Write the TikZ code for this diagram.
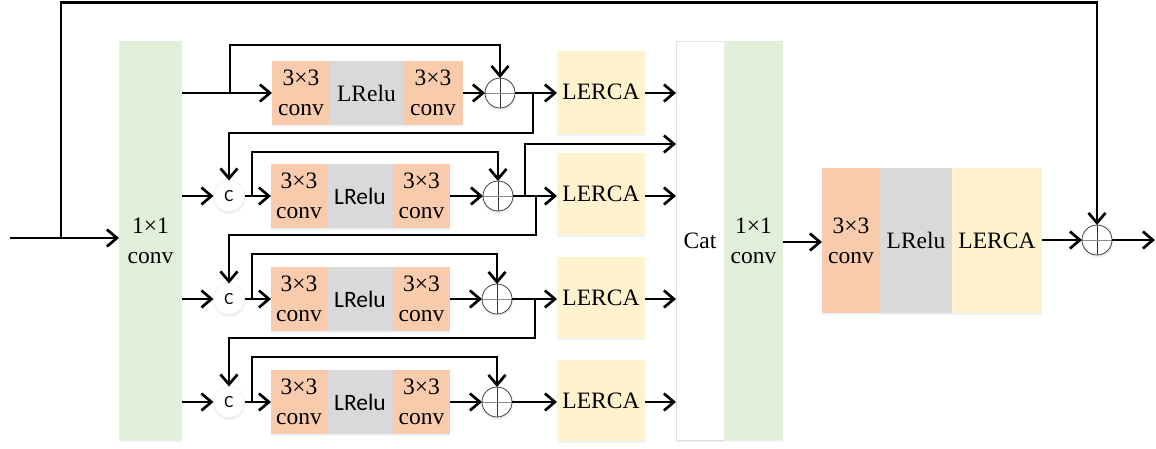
\documentclass[tikz,border=0pt]{standalone}
\usepackage{fontspec}
\setmainfont{Liberation Serif}
\newfontfamily\sansf{Carlito}
\usetikzlibrary{arrows.meta,shadows}
\definecolor{convc}{HTML}{F8CBAD}
\definecolor{reluc}{HTML}{D9D9D9}
\definecolor{ercac}{HTML}{FFF2CC}
\definecolor{onec}{HTML}{E2EFDA}
\definecolor{shadc}{HTML}{B8C8E2}
\begin{document}
\begin{tikzpicture}[x=1pt,y=-1pt,
  arr/.style={line width=2.7pt, -{Straight Barb[length=10pt,width=17pt]}},
  blk/.style={rectangle, inner sep=0pt, outer sep=0pt, align=center,
    font=\fontsize{23.5}{30}\selectfont,
    drop shadow={shadow xshift=0pt, shadow yshift=-2pt, opacity=0.25, fill=shadc}},
  orangebox/.style={blk, fill=convc},
  graybox/.style={blk, fill=reluc},
  yellowbox/.style={blk, fill=ercac},
  greenbox/.style={blk, fill=onec},
  catbox/.style={blk, fill=white, draw=black!12, line width=0.6pt},
  plus/.style={circle, minimum size=30pt, inner sep=0pt, outer sep=0pt, fill=white,
    draw=black!75, line width=0.8pt,
    path picture={\draw[black!80, line width=0.7pt]
      (path picture bounding box.north) -- (path picture bounding box.south);
      \draw[black!45, line width=0.7pt]
      (path picture bounding box.west) -- (path picture bounding box.east);},
    circular drop shadow={shadow xshift=0pt, shadow yshift=-1.5pt, opacity=0.3, fill=shadc}},
  ccirc/.style={circle, minimum size=31pt, inner sep=0pt, outer sep=0pt, fill=white,
    draw=black!8, line width=0.5pt, font=\sansf\fontsize{17}{17}\selectfont,
    circular drop shadow={shadow xshift=0pt, shadow yshift=-1.5pt, opacity=0.3, fill=shadc}},
]
\useasboundingbox (0,0) rectangle (1156,448);

% big columns
\node[greenbox, minimum width=63pt, minimum height=399pt] (conv1) at (150.5,240.5) {1×1\\conv};
\node[catbox, minimum width=48pt, minimum height=399pt] (cat) at (700,240.5) {Cat};
\node[greenbox, minimum width=59pt, minimum height=399pt] (conv2) at (753.5,240.5) {1×1\\conv};

% row 1
\node[orangebox, minimum width=58pt, minimum height=64pt] (r1a) at (301,93) {3×3\\conv};
\node[graybox, minimum width=73pt, minimum height=64pt] (r1b) at (366.5,93) {LRelu};
\node[orangebox, minimum width=60pt, minimum height=64pt] (r1c) at (433,93) {3×3\\conv};
\node[plus] (p1) at (500,93) {};
\node[yellowbox, minimum width=88pt, minimum height=83pt] (l1) at (601,92) {LERCA};

% row 2
\node[ccirc] (c2) at (229,196) {C};
\node[orangebox, minimum width=56pt, minimum height=64pt] (r2a) at (299,196) {3×3\\conv};
\node[graybox, minimum width=66pt, minimum height=64pt] (r2b) at (360,196) {\sansf LRelu};
\node[orangebox, minimum width=57pt, minimum height=64pt] (r2c) at (421.5,196) {3×3\\conv};
\node[plus] (p2) at (498,196) {};
\node[yellowbox, minimum width=88pt, minimum height=82pt] (l2) at (601,194) {LERCA};

% row 3
\node[ccirc] (c3) at (229,299) {C};
\node[orangebox, minimum width=56pt, minimum height=64pt] (r3a) at (299,299) {3×3\\conv};
\node[graybox, minimum width=66pt, minimum height=64pt] (r3b) at (360,299) {\sansf LRelu};
\node[orangebox, minimum width=57pt, minimum height=64pt] (r3c) at (421.5,299) {3×3\\conv};
\node[plus] (p3) at (497,299) {};
\node[yellowbox, minimum width=88pt, minimum height=81pt] (l3) at (601,297.5) {LERCA};

% row 4
\node[ccirc] (c4) at (229,402) {C};
\node[orangebox, minimum width=56pt, minimum height=64pt] (r4a) at (299,402) {3×3\\conv};
\node[graybox, minimum width=66pt, minimum height=64pt] (r4b) at (360,402) {\sansf LRelu};
\node[orangebox, minimum width=57pt, minimum height=64pt] (r4c) at (421.5,402) {3×3\\conv};
\node[plus] (p4) at (497,402) {};
\node[yellowbox, minimum width=88pt, minimum height=81pt] (l4) at (601,400.5) {LERCA};

% right block
\node[orangebox, minimum width=58pt, minimum height=145pt] (ra) at (851,240.5) {3×3\\conv};
\node[graybox, minimum width=72pt, minimum height=145pt] (rb) at (916,240.5) {LRelu};
\node[yellowbox, minimum width=90pt, minimum height=145pt] (rc) at (997,240.5) {LERCA};
\node[plus] (fp) at (1097,240) {};

% coordinates
\coordinate (in) at (10,238);
\coordinate (j0) at (61,238);
\coordinate (topy) at (0,2.5);
\coordinate (out) at (1155,240);
\coordinate (s1) at (230,93);  \coordinate (s1t) at (230,45);
\coordinate (s2) at (252,196); \coordinate (s2t) at (252,152);
\coordinate (s3) at (252,299); \coordinate (s3t) at (252,254);
\coordinate (s4) at (252,402); \coordinate (s4t) at (252,357);
\coordinate (b1) at (533,93);  \coordinate (b1d) at (533,133);
\coordinate (b2) at (536,196); \coordinate (b2d) at (536,235);
\coordinate (b3) at (535,299); \coordinate (b3d) at (535,338);
\coordinate (u2) at (525,196); \coordinate (u2t) at (525,144);
\coordinate (tl) at (0,242);

% input and global skip
\draw[arr] (in) -- (in -| conv1.west);
\draw[arr] (j0) |- (topy -| fp) -- (fp.north);

% row 1
\draw[arr] (conv1.east |- r1a) -- (r1a.west);
\draw[arr] (s1) -- (s1t) -| (p1.north);
\draw[arr] (r1c.east) -- (p1.west);
\draw[arr] (p1.east) -- (p1 -| l1.west);
\draw[arr] (l1.east |- p1) -- (p1 -| cat.west);
\draw[arr] (b1) -- (b1d) -| (c2.north);

% row 2
\draw[arr] (conv1.east |- c2) -- (c2.west);
\draw[arr] (c2.east) -- (r2a.west);
\draw[arr] (s2) -- (s2t) -| (p2.north);
\draw[arr] (r2c.east) -- (p2.west);
\draw[arr] (p2.east) -- (p2 -| l2.west);
\draw[arr] (l2.east |- p2) -- (p2 -| cat.west);
\draw[arr] (u2) -- (u2t) -- (u2t -| cat.west);
\draw[arr] (b2) -- (b2d) -| (c3.north);

% row 3
\draw[arr] (conv1.east |- c3) -- (c3.west);
\draw[arr] (c3.east) -- (r3a.west);
\draw[arr] (s3) -- (s3t) -| (p3.north);
\draw[arr] (r3c.east) -- (p3.west);
\draw[arr] (p3.east) -- (p3 -| l3.west);
\draw[arr] (l3.east |- p3) -- (p3 -| cat.west);
\draw[arr] (b3) -- (b3d) -| (c4.north);

% row 4
\draw[arr] (conv1.east |- c4) -- (c4.west);
\draw[arr] (c4.east) -- (r4a.west);
\draw[arr] (s4) -- (s4t) -| (p4.north);
\draw[arr] (r4c.east) -- (p4.west);
\draw[arr] (p4.east) -- (p4 -| l4.west);
\draw[arr] (l4.east |- p4) -- (p4 -| cat.west);

% tail
\draw[arr] (conv2.east |- tl) -- (ra.west |- tl);
\draw[arr] (rc.east |- fp) -- (fp.west);
\draw[arr] (fp.east) -- (out);
\end{tikzpicture}
\end{document}
